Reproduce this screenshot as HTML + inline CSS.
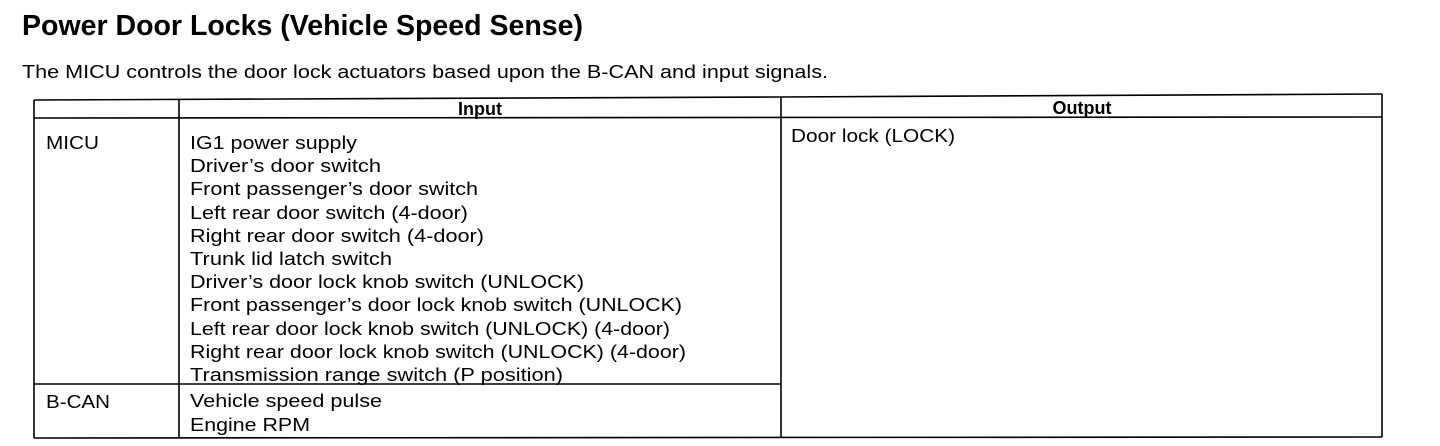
<!DOCTYPE html>
<html><head><meta charset="utf-8"><style>
html,body{margin:0;padding:0;background:#fff;}
svg{display:block;}
text{font-family:"Liberation Sans",sans-serif;fill:#000;}
</style></head><body>
<svg width="1440" height="446" viewBox="0 0 1440 446" xmlns="http://www.w3.org/2000/svg">
<text x="22" y="35" font-size="29" font-weight="bold" textLength="561" lengthAdjust="spacingAndGlyphs">Power Door Locks (Vehicle Speed Sense)</text>
<text x="22" y="78" font-size="18" textLength="806" lengthAdjust="spacingAndGlyphs">The MICU controls the door lock actuators based upon the B-CAN and input signals.</text>
<g stroke="#000" stroke-width="1.6" fill="none">
<line x1="34" y1="100" x2="781" y2="97"/>
<line x1="781" y1="97" x2="1382" y2="94"/>
<line x1="34" y1="118" x2="1382" y2="117"/>
<line x1="34" y1="100" x2="34" y2="438"/>
<line x1="179" y1="100" x2="179" y2="438"/>
<line x1="781" y1="97" x2="781" y2="438"/>
<line x1="1382" y1="94" x2="1382" y2="437"/>
<line x1="34" y1="384" x2="781" y2="384"/>
<line x1="34" y1="438" x2="1382" y2="437"/>
</g>
<text x="480" y="115" font-size="18" font-weight="bold" text-anchor="middle">Input</text>
<text x="1082" y="114" font-size="18" font-weight="bold" text-anchor="middle">Output</text>
<g font-size="18.5" lengthAdjust="spacingAndGlyphs">
<text x="46" y="149" textLength="53" lengthAdjust="spacingAndGlyphs">MICU</text>
<text x="46" y="408" textLength="64" lengthAdjust="spacingAndGlyphs">B-CAN</text>
<text x="791" y="142" textLength="164" lengthAdjust="spacingAndGlyphs">Door lock (LOCK)</text>
<text x="190" y="149" textLength="167" lengthAdjust="spacingAndGlyphs">IG1 power supply</text>
<text x="190" y="172" textLength="191" lengthAdjust="spacingAndGlyphs">Driver’s door switch</text>
<text x="190" y="195" textLength="288" lengthAdjust="spacingAndGlyphs">Front passenger’s door switch</text>
<text x="190" y="219" textLength="278" lengthAdjust="spacingAndGlyphs">Left rear door switch (4-door)</text>
<text x="190" y="242" textLength="294" lengthAdjust="spacingAndGlyphs">Right rear door switch (4-door)</text>
<text x="190" y="265" textLength="202" lengthAdjust="spacingAndGlyphs">Trunk lid latch switch</text>
<text x="190" y="288" textLength="394" lengthAdjust="spacingAndGlyphs">Driver’s door lock knob switch (UNLOCK)</text>
<text x="190" y="311" textLength="492" lengthAdjust="spacingAndGlyphs">Front passenger’s door lock knob switch (UNLOCK)</text>
<text x="190" y="335" textLength="480" lengthAdjust="spacingAndGlyphs">Left rear door lock knob switch (UNLOCK) (4-door)</text>
<text x="190" y="358" textLength="496" lengthAdjust="spacingAndGlyphs">Right rear door lock knob switch (UNLOCK) (4-door)</text>
<text x="190" y="381" textLength="373" lengthAdjust="spacingAndGlyphs">Transmission range switch (P position)</text>
<text x="190" y="407" textLength="192" lengthAdjust="spacingAndGlyphs">Vehicle speed pulse</text>
<text x="190" y="431" textLength="120" lengthAdjust="spacingAndGlyphs">Engine RPM</text>
</g>
</svg>
</body></html>
